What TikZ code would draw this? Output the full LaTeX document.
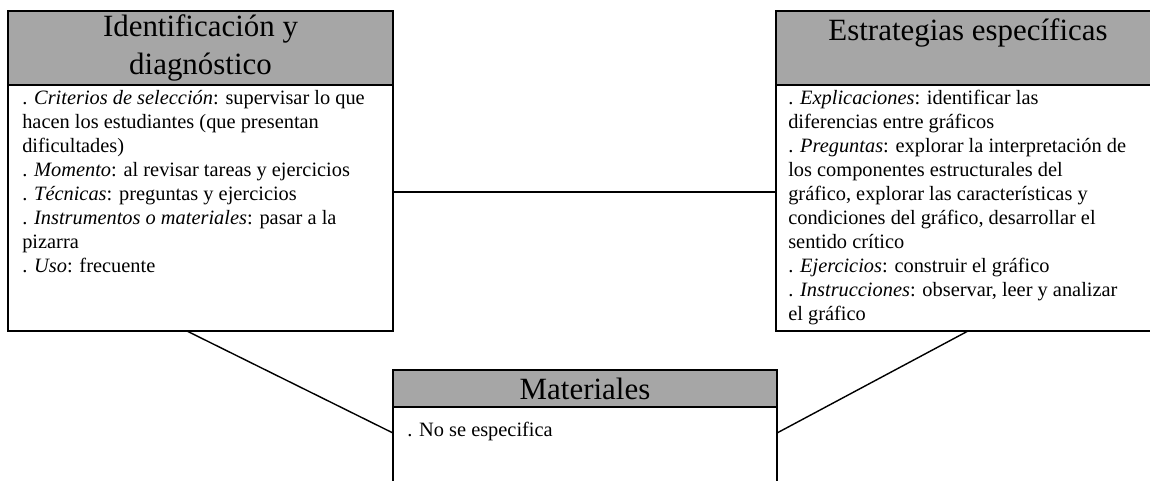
\documentclass[tikz,border=0pt]{standalone}
\usepackage{fontspec}
\setmainfont{Liberation Serif}
\usetikzlibrary{positioning}
\definecolor{headgray}{HTML}{A6A6A6}
\tikzstyle{head} = [rectangle, draw=black, fill=headgray, line width=1.4pt, outer sep=0pt, inner sep=0pt, minimum height=1.85cm, align=center, font=\fontsize{22}{26.5}\selectfont]
\tikzstyle{body} = [rectangle, draw=black, line width=1.4pt, outer sep=0pt, inner sep=0pt, minimum height=6.15cm]
\tikzstyle{bodytext} = [anchor=north west, align=left, inner xsep=0.35cm, inner ysep=3.5pt, font=\fontsize{14.5}{17.1}\selectfont]
\tikzstyle{link} = [line width=1pt]

\begin{document}
\begin{tikzpicture}[node distance=0pt]
			\useasboundingbox (0,0) rectangle (28.75,-12);
			\node (ident) [head, anchor=north west, minimum width=9.625cm] at (0.2,-0.275) {Identificación y\\diagnóstico};
			\node (identbody) [body, below=of ident, minimum width=9.625cm] {};
			\node (identtext) [bodytext] at (identbody.north west) {. \emph{Criterios de selección}: supervisar lo que\\hacen los estudiantes (que presentan\\dificultades)\\. \emph{Momento}: al revisar tareas y ejercicios\\. \emph{Técnicas}: preguntas y ejercicios\\. \emph{Instrumentos o materiales}: pasar a la\\pizarra\\. \emph{Uso}: frecuente};

			\node (estrat) [head, anchor=north west, minimum width=9.6cm] at (19.4,-0.275) {Estrategias específicas\\\mbox{}};
			\node (estratbody) [body, below=of estrat, minimum width=9.6cm] {};
			\node (estrattext) [bodytext, inner xsep=0.3cm] at (estratbody.north west) {. \emph{Explicaciones}: identificar las\\diferencias entre gráficos\\. \emph{Preguntas}: explorar la interpretación de\\los componentes estructurales del\\gráfico, explorar las características y\\condiciones del gráfico, desarrollar el\\sentido crítico\\. \emph{Ejercicios}: construir el gráfico\\. \emph{Instrucciones}: observar, leer y analizar\\el gráfico};

			\node (mater) [head, anchor=north west, minimum width=9.6cm, minimum height=0.925cm] at (9.825,-9.25) {Materiales};
			\node (materbody) [body, below=of mater, minimum width=9.6cm, minimum height=3cm] {};
			\node (matertext) [bodytext, yshift=-0.25cm] at (materbody.north west) {. No se especifica};

			\draw [link] ([yshift=0.4cm]identbody.east) -- ([yshift=0.4cm]estratbody.west);
			\draw [link] ([xshift=-0.34cm]identbody.south) -- ([yshift=-0.65cm]materbody.north west);
			\draw [link] (estratbody.south) -- ([yshift=-0.65cm]materbody.north east);
		\end{tikzpicture}
\end{document}
